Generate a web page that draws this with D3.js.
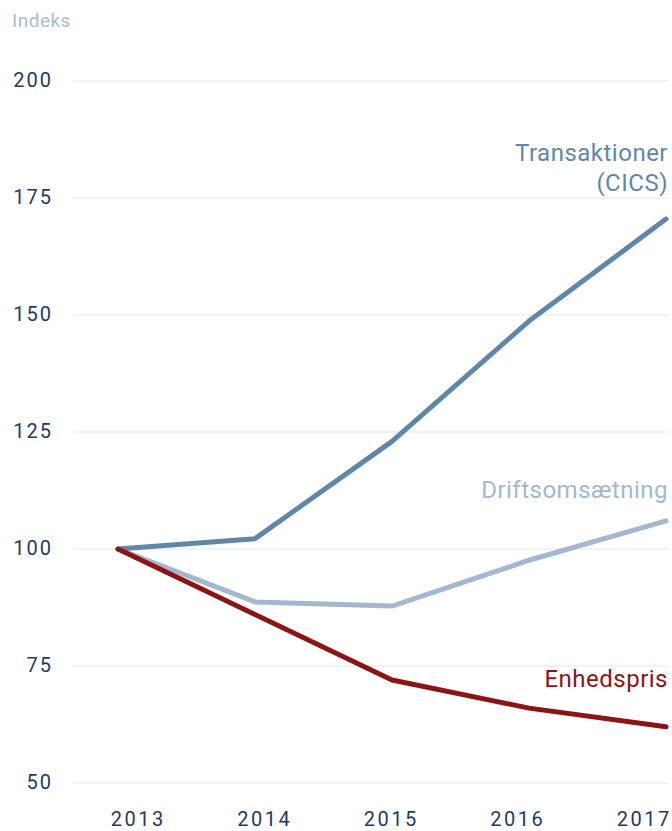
<!DOCTYPE html>
<html><head><meta charset="utf-8">
<script src="https://cdn.jsdelivr.net/npm/d3@7"></script>
<style>
body{margin:0;background:#fff;}
text{font-family:Roboto,"DejaVu Sans",sans-serif;}
</style></head>
<body><svg id="c" width="672" height="831"></svg>
<script>
const years = ["2013","2014","2015","2016","2017"];
const yTicks = [50,75,100,125,150,175,200];
const transaktioner = [100,102.2,123,148.7,170.5];
const driftsomsaetning = [100,88.7,87.8,97.6,106];
const enhedspris = [100,86,72,66,62];
const seriesNames = ["Transaktioner|(CICS)","Driftsomsætning","Enhedspris"];

const svg = d3.select("#c");
const y = d3.scaleLinear().domain([50,200]).range([783,81]);
const x = d3.scalePoint().domain(years).range([118,666]);
const xl = d3.scaleBand().domain(years).range([75,707.5]);

// grid
svg.append("g").selectAll("line").data(yTicks).join("line")
  .attr("x1",73).attr("x2",668).attr("y1",d=>y(d)).attr("y2",d=>y(d))
  .attr("stroke","#e3e7ee").attr("stroke-width",1);

// y labels
svg.append("g").selectAll("text").data(yTicks).join("text")
  .attr("x",53).attr("y",d=>y(d)+6).attr("text-anchor","end")
  .attr("font-size",20).attr("letter-spacing",2).attr("fill","#1f3b63").text(d=>d);

// x labels
svg.append("g").selectAll("text").data(years).join("text")
  .attr("x",d=>xl(d)+xl.bandwidth()/2).attr("y",826).attr("text-anchor","middle")
  .attr("font-size",20).attr("letter-spacing",2.5).attr("fill","#1f3b63").text(d=>d);

svg.append("text").attr("x",12).attr("y",27).attr("font-size",19)
  .attr("fill","#a9bcd3").attr("letter-spacing",0.5).text("Indeks");

const line = d3.line().x((d,i)=>x(years[i])).y(d=>y(d));
const series = [
  {v:driftsomsaetning,c:"#a3b8d0"},
  {v:transaktioner,c:"#5f87aa"},
  {v:enhedspris,c:"#8b1515"}
];
svg.append("g").selectAll("path").data(series).join("path")
  .attr("d",d=>line(d.v)).attr("fill","none").attr("stroke",d=>d.c)
  .attr("stroke-width",5).attr("stroke-linecap","round").attr("stroke-linejoin","round");

// labels
const lab = svg.append("g").attr("font-size",24).attr("text-anchor","end").attr("letter-spacing",0.5);
const t = seriesNames[0].split("|");
lab.append("text").attr("x",668).attr("y",161).attr("fill","#5f87aa").text(t[0]);
lab.append("text").attr("x",668).attr("y",191).attr("fill","#5f87aa").text(t[1]);
lab.append("text").attr("x",668).attr("y",498).attr("fill","#a3b8d0").text(seriesNames[1]);
lab.append("text").attr("x",668).attr("y",687).attr("fill","#8b1515").text(seriesNames[2]);
</script></body></html>
